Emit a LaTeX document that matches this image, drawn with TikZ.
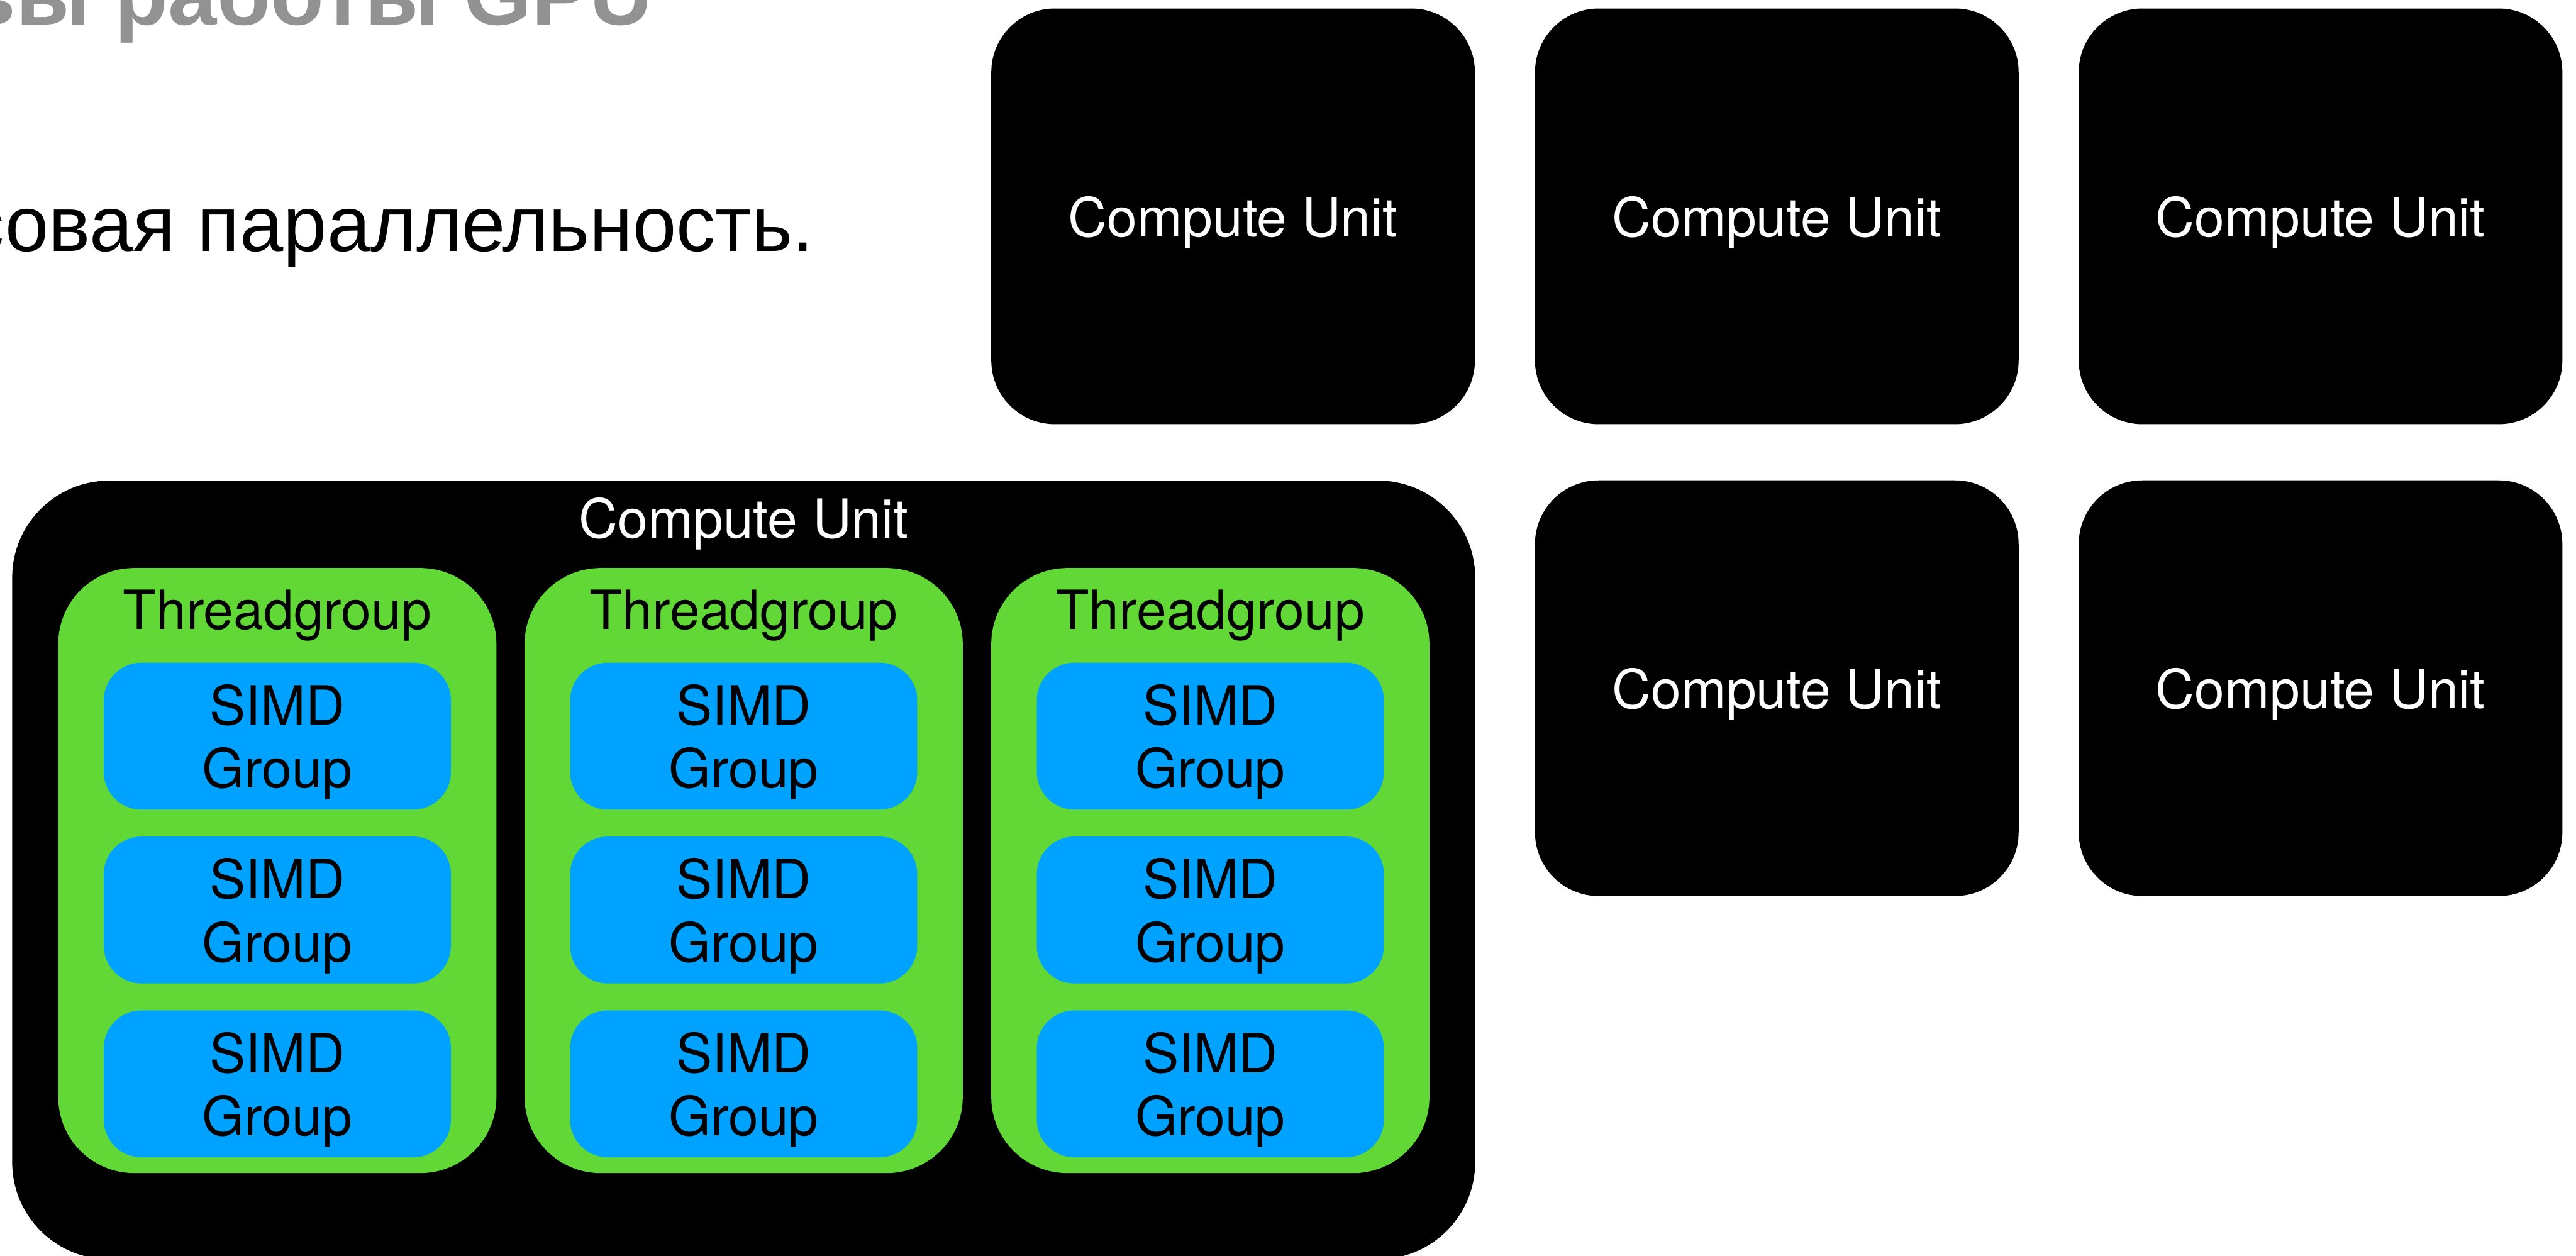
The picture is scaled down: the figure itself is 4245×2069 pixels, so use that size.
\documentclass[tikz,border=0pt]{standalone}
\usepackage{fontspec}
\setmainfont{TeX Gyre Heros}
\newfontfamily\cyrfont{Liberation Sans}
\definecolor{tggreen}{HTML}{61D836}
\definecolor{simdblue}{HTML}{00A2FF}
\definecolor{titlegray}{HTML}{929292}
\newcommand{\labfont}{\fontsize{8.9}{10.4}\selectfont}

\tikzset{
  cubox/.style={fill=black, draw=none, rounded corners=10.5pt,
    minimum width=79.7pt, minimum height=68.5pt, inner sep=0pt,
    text=white, font=\labfont, text depth=0pt},
  bigcu/.style={fill=black, draw=none, rounded corners=16pt,
    minimum width=241.1pt, minimum height=128.3pt, inner sep=0pt},
  tgbox/.style={fill=tggreen, draw=none, rounded corners=12.5pt,
    minimum width=72.2pt, minimum height=99.7pt, inner sep=0pt},
  simdbox/.style={fill=simdblue, draw=none, rounded corners=6.2pt,
    minimum width=57.2pt, minimum height=24.2pt, inner sep=0pt,
    align=center, font=\labfont, text depth=0pt},
  lab/.style={inner sep=0pt, font=\labfont, anchor=base},
}

\begin{document}
\begin{tikzpicture}[x=0.1pt, y=-0.1pt]
\useasboundingbox (0,0) rectangle (4245,2069);
\clip (0,0) rectangle (4245,2069);

% heading lines
\node[anchor=base east, inner sep=0pt, text=titlegray,
  font=\cyrfont\bfseries\fontsize{14.4}{17}\selectfont] (title) at (1078,41)
  {Основы работы GPU};
\node[anchor=base east, inner sep=0pt,
  font=\cyrfont\fontsize{12.92}{15}\selectfont] (subtitle) at (1344,414)
  {Массовая параллельность.};

% grid of compute units
\node[cubox] (cu1) at (2032,356.5) {Compute Unit};
\node[cubox] (cu2) at (2928,356.5) {Compute Unit};
\node[cubox] (cu3) at (3824,356.5) {Compute Unit};
\node[cubox] (cu4) at (2928,1134) {Compute Unit};
\node[cubox] (cu5) at (3824,1134) {Compute Unit};

% expanded compute unit
\node[bigcu] (big) at (1225.5,1433.5) {};
\node[lab, text=white] (biglab) at (1225.5,887) {Compute Unit};

\foreach \i/\cx in {1/457, 2/1225.5, 3/1994.5} {
  \node[tgbox] (tg\i) at (\cx,1434.5) {};
  \node[lab] (tglab\i) at (\cx,1037) {Threadgroup};
  \node[simdbox] (s\i a) at (\cx,1213) {SIMD\\Group};
  \node[simdbox] (s\i b) at (\cx,1499.5) {SIMD\\Group};
  \node[simdbox] (s\i c) at (\cx,1786) {SIMD\\Group};
}
\end{tikzpicture}
\end{document}
